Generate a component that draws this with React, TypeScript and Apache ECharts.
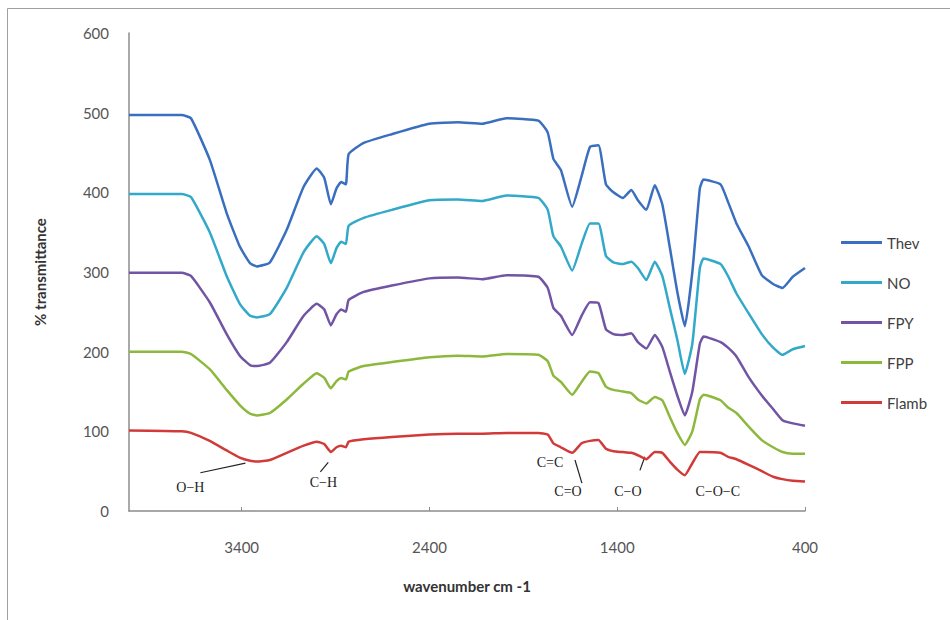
import React, { useEffect, useRef } from "react";
import * as echarts from "echarts";

const wavenumbers = [4000, 3720, 3670, 3570, 3480, 3410, 3355, 3320, 3250, 3160, 3070, 3000, 2960, 2925, 2895, 2870, 2845, 2830, 2750, 2600, 2400, 2250, 2120, 1990, 1820, 1770, 1740, 1700, 1640, 1590, 1545, 1500, 1460, 1420, 1370, 1325, 1290, 1245, 1200, 1160, 1120, 1080, 1040, 1000, 960, 940, 850, 810, 765, 700, 630, 570, 520, 465, 400];

const thev = [497, 497, 493, 441, 374, 332, 311, 307, 312, 353, 407, 430, 418, 385, 405, 413, 410, 448, 462, 473, 486, 488, 486, 493, 490, 475, 442, 428, 382, 420, 457, 459, 410, 400, 393, 403, 390, 378, 409, 385, 331, 275, 232, 300, 405, 416, 410, 388, 361, 332, 296, 285, 280, 294, 305];
const no = [398, 398, 394, 350, 295, 260, 245, 243, 247, 280, 325, 345, 335, 311, 330, 338, 335, 358, 368, 378, 390, 391, 389, 396, 393, 378, 345, 332, 302, 335, 361, 361, 320, 312, 310, 313, 305, 290, 313, 295, 255, 215, 172, 210, 305, 317, 310, 295, 273, 248, 222, 205, 196, 203, 207];
const fpy = [299, 299, 295, 262, 222, 195, 183, 182, 186, 212, 245, 260, 253, 233, 247, 253, 250, 265, 275, 283, 292, 293, 291, 296, 294, 280, 255, 245, 221, 245, 262, 261, 228, 222, 221, 223, 212, 204, 221, 206, 175, 145, 120, 150, 210, 219, 212, 205, 194, 168, 145, 128, 114, 110, 107];
const fpp = [200, 200, 197, 178, 152, 133, 122, 120, 123, 140, 160, 173, 167, 154, 163, 167, 165, 175, 182, 187, 193, 195, 194, 197, 196, 188, 170, 162, 146, 162, 175, 173, 156, 152, 150, 148, 140, 135, 143, 139, 118, 98, 83, 100, 140, 146, 139, 130, 123, 106, 89, 80, 74, 72, 72];
const flamb = [101, 100, 98, 88, 76, 67, 63, 62, 64, 73, 82, 87, 84, 74, 80, 82, 80, 87, 90, 93, 96, 97, 97, 98, 98, 96, 85, 80, 73, 85, 88, 89, 78, 75, 74, 73, 70, 65, 74, 73, 62, 52, 45, 60, 74, 74, 73, 68, 65, 58, 50, 43, 40, 38, 37];

const seriesNames = ["Thev", "NO", "FPY", "FPP", "Flamb"];
const seriesColors = ["#3a6fc0", "#33a9c9", "#7254a4", "#8cb83c", "#d23a3a"];
const seriesValues = [thev, no, fpy, fpp, flamb];

// annotation labels: [text, wavenumber, value]
const annoTexts = ["O\u2212H", "C\u2212H", "C=C", "C=O", "C\u2212O", "C\u2212O\u2212C"];
const annoWn = [3673, 2965, 1758, 1662, 1343, 865];
const annoVal = [29, 36, 61, 24, 24, 24];
// leader lines: [wn1, val1, wn2, val2]
const leaderLines = [
  [3620, 48, 3380, 60],
  [2981, 49, 2939, 61],
  [1625, 64, 1588, 35],
  [1279, 51, 1253, 68],
];

export default function App() {
  const ref = useRef<HTMLDivElement>(null);
  useEffect(() => {
    document.body.style.margin = "0";
    const chart = echarts.init(ref.current!, null, { renderer: "svg" });
    const series = seriesNames.map((name, i) => ({
      name,
      type: "line",
      data: wavenumbers.map((w, j) => [w, seriesValues[i][j]]),
      showSymbol: false,
      symbol: "none",
      smooth: 0.15,
      lineStyle: { width: 2.5, color: seriesColors[i] },
      itemStyle: { color: seriesColors[i] },
    }));
    chart.setOption({
      animation: false,
      backgroundColor: "#ffffff",
      grid: { left: 129, right: 145, top: 33, bottom: 109, containLabel: false },
      legend: {
        orient: "vertical",
        left: 836,
        top: 230,
        icon: "rect",
        itemWidth: 41,
        itemHeight: 3,
        itemGap: 25,
        data: seriesNames,
        textStyle: { fontSize: 15, color: "#404040", fontFamily: "Lato" },
      },
      xAxis: {
        type: "value",
        inverse: true,
        min: 400,
        max: 4000,
        interval: 1000,
        name: "wavenumber cm -1",
        nameLocation: "middle",
        nameGap: 67,
        nameTextStyle: { fontSize: 15, fontWeight: "bold", color: "#333", fontFamily: "Lato" },
        axisLine: { show: true, lineStyle: { color: "#8c8c8c", width: 1.5 } },
        axisTick: { show: true, inside: true, length: 4, lineStyle: { color: "#8c8c8c" } },
        axisLabel: {
          margin: 28,
          fontSize: 15,
          color: "#555",
          fontFamily: "Lato",
          showMaxLabel: false,
          formatter: (v: number) => String(v),
        },
        splitLine: { show: false },
      },
      yAxis: {
        type: "value",
        min: 0,
        max: 600,
        interval: 100,
        name: "% transmittance",
        nameLocation: "middle",
        nameGap: 82,
        nameRotate: 90,
        nameTextStyle: { fontSize: 15, fontWeight: "bold", color: "#333", fontFamily: "Lato" },
        axisLine: { show: true, lineStyle: { color: "#8c8c8c", width: 1.5 } },
        axisTick: { show: false },
        axisLabel: { margin: 20, fontSize: 15, color: "#555", fontFamily: "Lato" },
        splitLine: { show: false },
      },
      series,
    });

    const toPx = (w: number, v: number) => chart.convertToPixel({ gridIndex: 0 }, [w, v]) as number[];
    const graphics: any[] = [
      {
        type: "rect",
        shape: { x: 7.5, y: 8.5, width: 1000, height: 700 },
        style: { fill: "none", stroke: "#a0a0a0", lineWidth: 1 },
        silent: true,
      },
    ];
    annoTexts.forEach((t, i) => {
      const p = toPx(annoWn[i], annoVal[i]);
      graphics.push({
        type: "text",
        x: p[0],
        y: p[1],
        style: {
          text: t,
          fontFamily: "Liberation Serif",
          fontSize: 14,
          fill: "#222",
          textAlign: "center",
          textVerticalAlign: "middle",
        },
      });
    });
    leaderLines.forEach((l) => {
      const a = toPx(l[0], l[1]);
      const b = toPx(l[2], l[3]);
      graphics.push({
        type: "line",
        shape: { x1: a[0], y1: a[1], x2: b[0], y2: b[1] },
        style: { stroke: "#222", lineWidth: 1.2 },
      });
    });
    chart.setOption({ graphic: graphics });
    return () => chart.dispose();
  }, []);
  return <div ref={ref} style={{ width: 950, height: 620 }} />;
}
